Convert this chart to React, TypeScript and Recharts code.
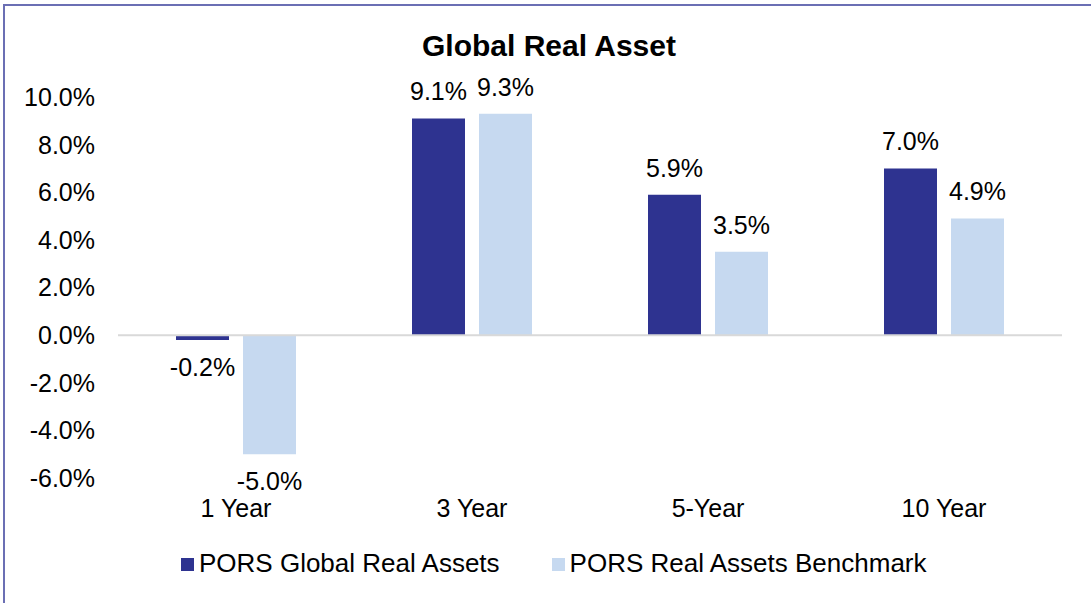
import { BarChart, Bar, XAxis, YAxis, ReferenceLine, LabelList, Legend } from 'recharts';

// values (percent)
const categories = ['1 Year', '3 Year', '5-Year', '10 Year'];
const globalRealAssets = [-0.2, 9.1, 5.9, 7.0];
const realAssetsBenchmark = [-5.0, 9.3, 3.5, 4.9];
const yTicks = [-6, -4, -2, 0, 2, 4, 6, 8, 10];

const FONT = '"Liberation Sans", Arial, sans-serif';
const NAVY = '#2e3390';
const LIGHT = '#c6d9f0';

const data = categories.map((name, i) => ({
  name,
  global: globalRealAssets[i],
  benchmark: realAssetsBenchmark[i],
}));

const pct = (v: unknown) => `${Number(v).toFixed(1)}%`;

const CategoryTick = ({ x, y, payload }: any) => (
  <text x={x} y={y + 31} textAnchor="middle" fill="#000" fontSize={25} fontFamily={FONT}>
    {payload.value}
  </text>
);

const renderLegend = (props: any) => {
  const items = props.payload || [];
  return (
    <div style={{ display: 'flex', height: 30, lineHeight: '30px', fontSize: 26, color: '#000', paddingLeft: 181, fontFamily: FONT }}>
      {items.map((item: any, i: number) => (
        <div key={item.value} style={{ display: 'flex', alignItems: 'flex-start', marginRight: i === 0 ? 52 : 0 }}>
          <span style={{ display: 'block', width: 13, height: 13, marginTop: 10, marginRight: 5, background: item.color }} />
          <span style={{ whiteSpace: 'nowrap' }}>{item.value}</span>
        </div>
      ))}
    </div>
  );
};

export default function App() {
  return (
    <div style={{ position: 'absolute', left: 0, top: 0, width: 1091, height: 603, background: '#fff', fontFamily: FONT, overflow: 'hidden' }}>
      <div
        style={{
          position: 'absolute',
          left: 3,
          top: 4,
          right: -10,
          bottom: -10,
          borderLeft: '2px solid #6b6fb4',
          borderTop: '2px solid #6b6fb4',
        }}
      />
      <div
        style={{
          position: 'absolute',
          left: 0,
          top: 31,
          width: 1098,
          textAlign: 'center',
          fontSize: 30,
          lineHeight: '30px',
          fontWeight: 'bold',
          color: '#000',
        }}
      >
        Global Real Asset
      </div>
      <BarChart
        width={1091}
        height={603}
        data={data}
        margin={{ top: 97, right: 29, left: 0, bottom: 65 }}
        barGap={14}
        barSize={53}
      >
        <YAxis
          width={118}
          domain={[-6, 10]}
          ticks={yTicks}
          interval={0}
          tickFormatter={pct}
          axisLine={false}
          tickLine={false}
          tickSize={0}
          tickMargin={23}
          tick={{ fill: '#000', fontSize: 25, fontFamily: FONT }}
        />
        <XAxis dataKey="name" axisLine={false} tickLine={false} height={30} interval={0} tick={<CategoryTick />} />
        <ReferenceLine y={0} stroke="#d9d9d9" strokeWidth={2} />
        <Bar dataKey="global" name="PORS Global Real Assets" fill={NAVY} isAnimationActive={false}>
          <LabelList dataKey="global" position="top" offset={18} formatter={pct} fill="#000" fontSize={25} fontFamily={FONT} />
        </Bar>
        <Bar dataKey="benchmark" name="PORS Real Assets Benchmark" fill={LIGHT} isAnimationActive={false}>
          <LabelList dataKey="benchmark" position="top" offset={18} formatter={pct} fill="#000" fontSize={25} fontFamily={FONT} />
        </Bar>
        <Legend
          verticalAlign="bottom"
          content={renderLegend}
          wrapperStyle={{ top: 548, left: 0, bottom: 'auto', width: 1091 }}
        />
      </BarChart>
    </div>
  );
}
